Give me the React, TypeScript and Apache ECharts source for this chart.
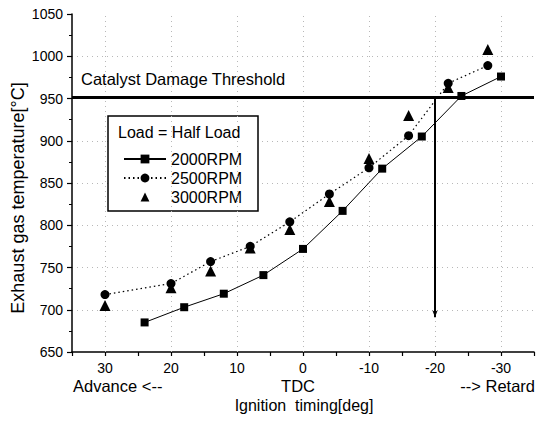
import React, { useEffect, useRef } from "react";
import * as echarts from "echarts";

const FONT = "'Liberation Sans', Arial, Helvetica, sans-serif";

const seriesNames = ["2000RPM", "2500RPM", "3000RPM"];
const x2000 = [24, 18, 12, 6, 0, -6, -12, -18, -24, -30];
const y2000 = [685, 703, 719, 741, 772, 817, 867, 905, 953, 976];
const x2500 = [30, 20, 14, 8, 2, -4, -10, -16, -22, -28];
const y2500 = [718, 731, 757, 775, 804, 837, 868, 906, 968, 989];
const x3000 = [30, 20, 14, 8, 2, -4, -10, -16, -22, -28];
const y3000 = [705, 726, 746, 773, 795, 828, 879, 930, 963, 1008];
const xGridTicks = [30, 20, 10, 0, -10, -20, -30];
const thresholdValue = 951;
const arrowX = -20;
const arrowBottom = 691;

const zip = (xs: number[], ys: number[]) => xs.map((x, i) => [x, ys[i]]);

export default function App() {
  const ref = useRef<HTMLDivElement>(null);
  useEffect(() => {
    if (!ref.current) return;
    const chart = echarts.init(ref.current, null, { renderer: "svg" });
    chart.setOption({
      animation: false,
      backgroundColor: "#ffffff",
      textStyle: { fontFamily: FONT, color: "#000" },
      grid: { left: 72, right: 2, top: 14, bottom: 71 },
      xAxis: {
        type: "value",
        min: -35,
        max: 35,
        interval: 5,
        inverse: true,
        axisLine: { onZero: false, lineStyle: { color: "#000", width: 1.5 } },
        axisTick: { length: 4, lineStyle: { color: "#000", width: 1.2 } },
        axisLabel: {
          margin: 9,
          fontSize: 14,
          color: "#000",
          fontFamily: FONT,
          formatter: (v: number) => (v % 10 === 0 && Math.abs(v) <= 30 ? String(v) : ""),
        },
        splitLine: { show: false },
      },
      yAxis: {
        type: "value",
        min: 650,
        max: 1050,
        interval: 50,
        axisLine: { show: true, onZero: false, lineStyle: { color: "#000", width: 1.5 } },
        axisTick: { show: true, length: 5, lineStyle: { color: "#000", width: 1.2 } },
        minorTick: { show: true, splitNumber: 2, length: 3, lineStyle: { color: "#000" } },
        axisLabel: {
          margin: 9,
          fontSize: 14,
          color: "#000",
          fontFamily: FONT,
          formatter: (v: number) => String(v),
        },
        splitLine: {
          show: true,
          showMinLine: false,
          showMaxLine: false,
          lineStyle: { color: "#b8b8b8", type: [1, 4], width: 1 },
        },
      },
      legend: {
        data: seriesNames,
        orient: "vertical",
        left: 118,
        top: 146,
        itemWidth: 42,
        itemHeight: 11,
        itemGap: 3,
        z: 5,
        textStyle: { fontSize: 16, color: "#000", fontFamily: FONT, lineHeight: 16 },
      },
      graphic: [
        {
          type: "rect",
          z: 3,
          shape: { x: 108, y: 116, width: 150, height: 95 },
          style: { fill: "#fff", stroke: "#000", lineWidth: 1.5 },
        },
        {
          type: "text",
          z: 6,
          x: 118,
          y: 132,
          style: {
            text: "Load = Half Load",
            fontSize: 16,
            fontFamily: FONT,
            fill: "#000",
            textVerticalAlign: "middle",
          },
        },
        {
          type: "text",
          z: 6,
          x: 81,
          y: 79,
          style: {
            text: "Catalyst Damage Threshold",
            fontSize: 16.5,
            fontFamily: FONT,
            fill: "#000",
            textVerticalAlign: "middle",
          },
        },
        {
          type: "text",
          x: 18,
          y: 198,
          rotation: Math.PI / 2,
          style: {
            text: "Exhaust gas temperature[°C]",
            fontSize: 18,
            fontFamily: FONT,
            fill: "#000",
            textAlign: "center",
            textVerticalAlign: "middle",
          },
        },
        {
          type: "text",
          x: 73,
          y: 386,
          style: { text: "Advance <--", fontSize: 16.5, fontFamily: FONT, fill: "#000", textVerticalAlign: "middle" },
        },
        {
          type: "text",
          x: 298,
          y: 386,
          style: {
            text: "TDC",
            fontSize: 16.5,
            fontFamily: FONT,
            fill: "#000",
            textAlign: "center",
            textVerticalAlign: "middle",
          },
        },
        {
          type: "text",
          x: 535,
          y: 386,
          style: {
            text: "--> Retard",
            fontSize: 16.5,
            fontFamily: FONT,
            fill: "#000",
            textAlign: "right",
            textVerticalAlign: "middle",
          },
        },
        {
          type: "text",
          x: 304,
          y: 405,
          style: {
            text: "Ignition  timing[deg]",
            fontSize: 16,
            fontFamily: FONT,
            fill: "#000",
            textAlign: "center",
            textVerticalAlign: "middle",
          },
        },
      ],
      series: [
        {
          name: "helper",
          type: "line",
          data: [],
          silent: true,
          markLine: {
            silent: true,
            symbol: ["none", "none"],
            label: { show: false },
            lineStyle: { color: "#b8b8b8", type: [1, 4], width: 1 },
            data: xGridTicks.map((v) => ({ xAxis: v })),
          },
        },
        {
          name: "threshold",
          type: "line",
          data: [],
          silent: true,
          z: 4,
          markLine: {
            silent: true,
            symbol: ["none", "none"],
            label: { show: false },
            lineStyle: { color: "#000", type: "solid", width: 3 },
            data: [
              { yAxis: thresholdValue },
              [
                { coord: [arrowX, thresholdValue], symbol: "none", lineStyle: { width: 2 } },
                { coord: [arrowX, arrowBottom], symbol: "arrow", symbolSize: [4, 7] },
              ],
            ],
          },
        },
        {
          name: seriesNames[0],
          type: "line",
          data: zip(x2000, y2000),
          symbol: "rect",
          symbolSize: 8,
          itemStyle: { color: "#000" },
          lineStyle: { color: "#000", width: 1, type: "solid" },
          z: 5,
        },
        {
          name: seriesNames[1],
          type: "line",
          data: zip(x2500, y2500),
          symbol: "circle",
          symbolSize: 9,
          itemStyle: { color: "#000" },
          lineStyle: { color: "#000", width: 1.2, type: [1.5, 3] },
          z: 5,
        },
        {
          name: seriesNames[2],
          type: "line",
          data: zip(x3000, y3000),
          symbol: "triangle",
          symbolSize: 11,
          itemStyle: { color: "#000" },
          lineStyle: { width: 0, opacity: 0 },
          z: 5,
        },
      ],
    });
    return () => chart.dispose();
  }, []);
  return (
    <div
      ref={ref}
      style={{ position: "fixed", left: 0, top: 0, width: 537, height: 423, background: "#fff" }}
    />
  );
}
